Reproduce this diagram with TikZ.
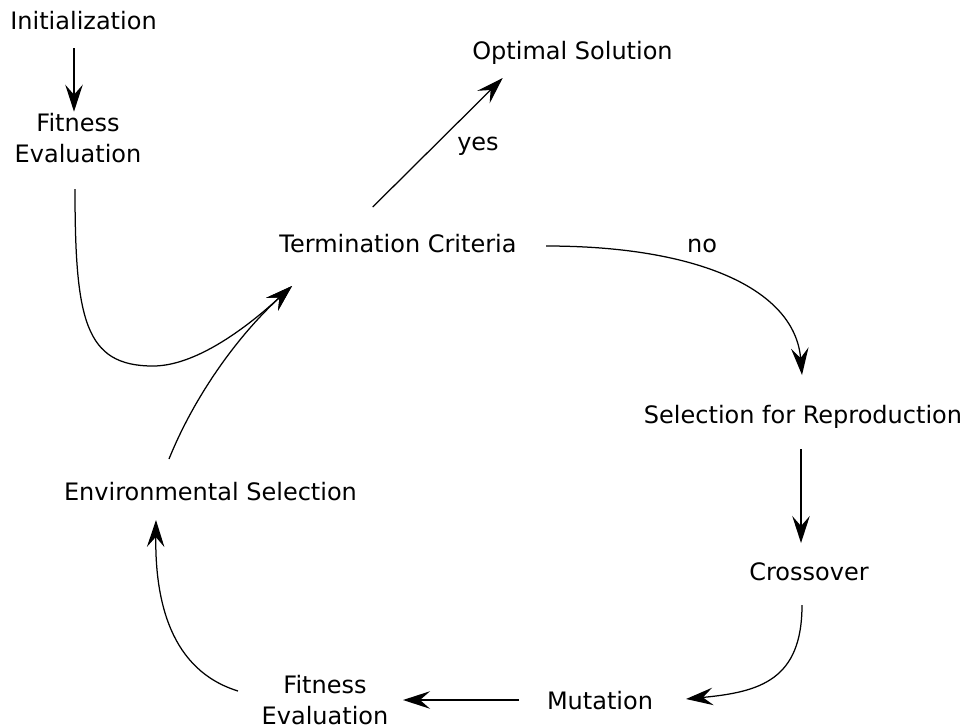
\documentclass[tikz,border=0pt]{standalone}
\usepackage{fontspec}
\setmainfont{DejaVu Sans}
\usetikzlibrary{arrows.meta}
\begin{document}
\begin{tikzpicture}[x=1pt,y=-1pt,
    txt/.style={font=\fontsize{24pt}{31pt}\selectfont, inner sep=0pt, align=center},
    flow/.style={line width=1.25pt, -{Stealth[length=27pt,width=17.5pt,inset=10pt]}}]
  \useasboundingbox (0,0) rectangle (968,726);

  % stages of the evolutionary loop
  \node[txt, anchor=base] (init)  at (83.5,29.3)  {Initialization};
  \node[txt]              (fitA)  at (78,138.1)   {Fitness\\Evaluation};
  \node[txt, anchor=base] (opt)   at (572.5,59.3) {Optimal Solution};
  \node[txt, anchor=base] (term)  at (398,252.7)  {Termination Criteria};
  \node[txt, anchor=base] (sel)   at (803,423.3)  {Selection for Reproduction};
  \node[txt, anchor=base] (cross) at (809,580)    {Crossover};
  \node[txt, anchor=base] (mut)   at (600,709)    {Mutation};
  \node[txt]              (fitB)  at (325,700)    {Fitness\\Evaluation};
  \node[txt, anchor=base] (env)   at (210.5,500)  {Environmental Selection};

  % decision labels
  \node[txt, anchor=base] (yes) at (478,150)   {yes};
  \node[txt, anchor=base] (no)  at (702,252.3) {no};

  % connectors
  \draw[flow] ([shift={(-9.5,19)}]init.base) -- ([shift={(-4,-26.4)}]fitA.center);
  \draw[flow] ([shift={(-3,50.9)}]fitA.center)
      .. controls (75,320) and (85,366) .. (153,366)
      .. controls (200,366) and (255,320) .. ([shift={(-106,33.3)}]term.base);
  \draw[flow] ([shift={(-41.5,-41)}]env.base)
      .. controls (194,397) and (236.5,337) .. ([shift={(-106,33.3)}]term.base);
  \draw[flow] ([shift={(-25.3,-45.7)}]term.base) -- ([shift={(-69.8,18.7)}]opt.base);
  \draw[flow] ([shift={(148,-6.7)}]term.base)
      .. controls (700,246) and (795,290) .. ([shift={(-1,-48.3)}]sel.base);
  \draw[flow] ([shift={(-2,25.7)}]sel.base) -- ([shift={(-8,-37)}]cross.base);
  \draw[flow] ([shift={(-7,25)}]cross.base)
      .. controls (802,680) and (760,692) .. ([shift={(86,-10)}]mut.base);
  \draw[flow] ([shift={(-81,-9)}]mut.base) -- ([shift={(78,0)}]fitB.center);
  \draw[flow] ([shift={(-87,-9)}]fitB.center)
      .. controls (170,670) and (155,600) .. ([shift={(-54.5,20)}]env.base);
\end{tikzpicture}
\end{document}
